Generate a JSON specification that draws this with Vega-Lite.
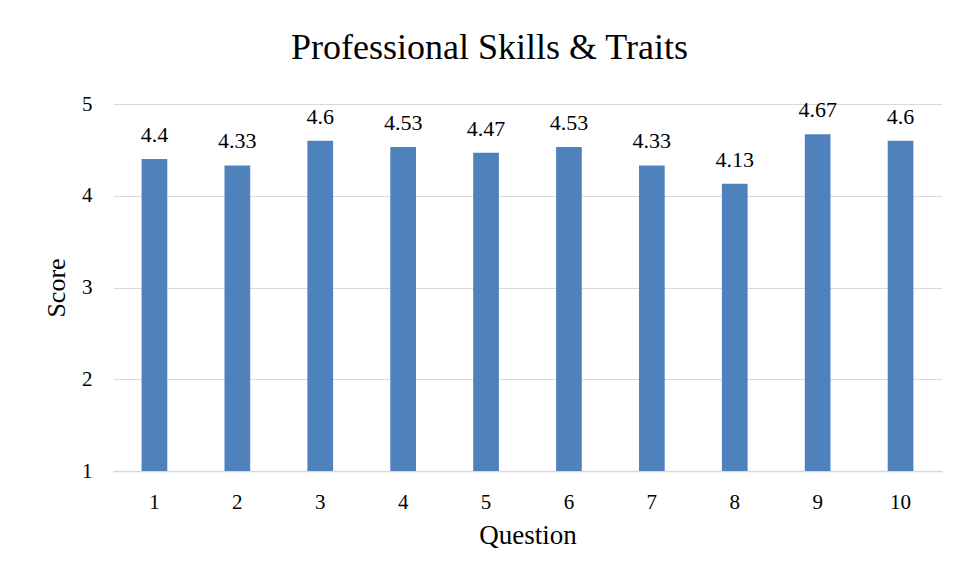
{
  "$schema": "https://vega.github.io/schema/vega-lite/v6.json",
  "width": 829,
  "height": 367,
  "autosize": {"type": "none"},
  "padding": {"left": 113, "top": 104, "right": 16, "bottom": 108},
  "background": "white",
  "title": {
    "text": "Professional  Skills & Traits",
    "font": "Liberation Serif",
    "fontSize": 36,
    "fontWeight": "normal",
    "color": "#000000",
    "anchor": "middle",
    "dx": -38,
    "offset": 26
  },
  "config": {
    "view": {"stroke": null},
    "font": "Liberation Serif"
  },
  "data": {
    "values": [
      {"question": "1", "score": 4.4, "label": "4.4"},
      {"question": "2", "score": 4.33, "label": "4.33"},
      {"question": "3", "score": 4.6, "label": "4.6"},
      {"question": "4", "score": 4.53, "label": "4.53"},
      {"question": "5", "score": 4.47, "label": "4.47"},
      {"question": "6", "score": 4.53, "label": "4.53"},
      {"question": "7", "score": 4.33, "label": "4.33"},
      {"question": "8", "score": 4.13, "label": "4.13"},
      {"question": "9", "score": 4.67, "label": "4.67"},
      {"question": "10", "score": 4.6, "label": "4.6"}
    ]
  },
  "encoding": {
    "x": {
      "field": "question",
      "type": "ordinal",
      "sort": null,
      "scale": {"paddingInner": 0.69, "paddingOuter": 0.345},
      "axis": {
        "title": "Question",
        "titleFont": "Liberation Serif",
        "titleFontSize": 27,
        "titleFontWeight": "normal",
        "titleColor": "#000000",
        "titlePadding": 10,
        "labelFont": "Liberation Serif",
        "labelFontSize": 21,
        "labelColor": "#000000",
        "labelAngle": 0,
        "labelPadding": 20,
        "ticks": false,
        "domainColor": "#d9d9d9",
        "domainWidth": 1.5,
        "grid": false
      }
    },
    "y": {
      "field": "score",
      "type": "quantitative",
      "scale": {"domain": [1, 5], "zero": false, "nice": false},
      "axis": {
        "title": "Score",
        "titleFont": "Liberation Serif",
        "titleFontSize": 26,
        "titleFontWeight": "normal",
        "titleColor": "#000000",
        "titlePadding": 12,
        "labelFont": "Liberation Serif",
        "labelFontSize": 21,
        "labelColor": "#000000",
        "labelPadding": 21,
        "values": [1, 2, 3, 4, 5],
        "ticks": false,
        "domain": false,
        "gridColor": "#d9d9d9",
        "gridWidth": 1
      }
    }
  },
  "layer": [
    {
      "mark": {"type": "bar", "color": "#4f81bd"},
      "encoding": {"y2": {"datum": 1}}
    },
    {
      "mark": {
        "type": "text",
        "baseline": "alphabetic",
        "dy": -17,
        "font": "Liberation Serif",
        "fontSize": 22,
        "color": "#000000"
      },
      "encoding": {"text": {"field": "label"}}
    }
  ]
}
